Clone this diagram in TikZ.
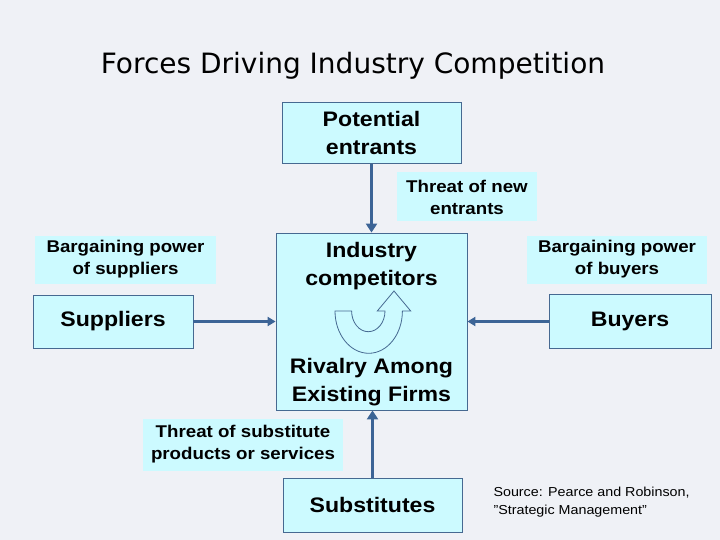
\documentclass[tikz,border=0pt]{standalone}
\usepackage{fontspec}
\setmainfont{Liberation Sans}[FakeStretch=1.1]
\newfontfamily\titlefont{DejaVu Sans}
\definecolor{boxcyan}{RGB}{204,250,255}
\definecolor{steelline}{RGB}{70,105,145}
\definecolor{arrowblue}{RGB}{60,100,150}
\definecolor{slidebg}{RGB}{239,241,246}
\usetikzlibrary{arrows.meta}

\begin{document}
\begin{tikzpicture}[x=1pt, y=-1pt,
        force/.style={draw=steelline, fill=boxcyan, line width=0.8pt, minimum width=179pt, minimum height=54pt, align=center, font=\fontsize{21}{28}\selectfont\bfseries, inner sep=0pt},
        tag/.style={fill=boxcyan, align=center, font=\fontsize{17}{22}\selectfont\bfseries, inner sep=0pt},
        flow/.style={draw=arrowblue, line width=3.5pt, -{Triangle[length=9pt, width=11pt]}},
        sideflow/.style={draw=arrowblue, line width=2.5pt, -{Triangle[length=8pt, width=9pt]}},
      ]
      \fill[slidebg] (0,0) rectangle (720,540);
      \node[font=\titlefont\fontsize{28}{34}\selectfont] (title) at (353,66) {Forces Driving Industry Competition};

      \node[force, minimum width=179pt, minimum height=61pt] (entrants) at (371.5,133) {Potential\\entrants};
      \node[force, minimum width=191pt, minimum height=177pt] (rivals) at (371.5,321.5) {};
      \node[force, draw=none, fill=none] (industry) at (371.5,266) {Industry\\competitors};
      \node[force, draw=none, fill=none] (rivalry) at (371.5,382) {Rivalry Among\\Existing Firms};
      \node[force, minimum width=160pt, minimum height=53pt] (suppliers) at (113,321.5) {Suppliers};
      \node[force, minimum width=162pt, minimum height=54pt] (buyers) at (630,321.5) {Buyers};
      \node[force, minimum width=179pt, minimum height=54pt] (substitutes) at (372.5,505) {Substitutes};

      \node[tag, minimum width=140pt, minimum height=49pt] (newthreat) at (467,197) {Threat of new\\entrants};
      \node[tag, minimum width=181pt, minimum height=48pt] (supplierpower) at (125.5,259.5) {Bargaining power\\of suppliers};
      \node[tag, minimum width=180pt, minimum height=48pt] (buyerpower) at (617,259.5) {Bargaining power\\of buyers};
      \node[tag, minimum width=200pt, minimum height=52pt] (subthreat) at (243,444.5) {Threat of substitute\\products or services};

      \node[anchor=west, align=left, font=\fontsize{13}{18}\selectfont] (source) at (490,502) {Source: Pearce and Robinson,\\"Strategic Management"};

      % rivalry arrow
      \draw[steelline, line width=0.8pt] (335,311) arc[start angle=180, end angle=0, x radius=33.7, y radius=42.3]
        -- (410.7,311) -- (394,291) -- (377.3,311) -- (385,311)
        arc[start angle=0, end angle=180, x radius=16.7, y radius=20.7] -- cycle;

      \draw[flow] (entrants) -- (rivals);
      \draw[flow] (substitutes) -- (substitutes |- rivals.south);
      \draw[sideflow] (suppliers) -- (rivals);
      \draw[sideflow] (buyers) -- (rivals);
      \end{tikzpicture}
\end{document}
